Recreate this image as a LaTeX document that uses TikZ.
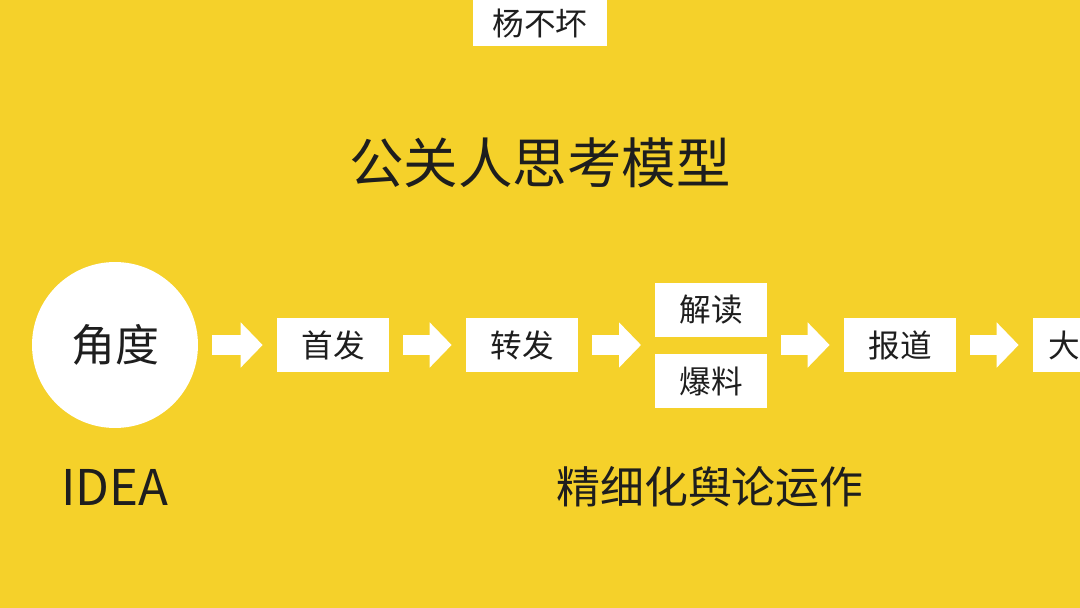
\documentclass[tikz,border=0pt]{standalone}
\usepackage{fontspec}
\setmainfont{Noto Sans CJK SC}
\usetikzlibrary{arrows.meta,calc}
\definecolor{bgyellow}{RGB}{245,209,42}
\definecolor{inkgray}{RGB}{30,30,30}
\tikzset{
  stagebox/.style = {fill = white, minimum width = 2.24cm, minimum height = 1.1cm, text = inkgray, font = \fontsize{18}{20}\selectfont, inner sep = 0pt},
  flow/.style = {white, line width = 0.4cm, -{Triangle[length = 0.44cm, width = 0.88cm]}, shorten < = 0.28cm, shorten > = 0.28cm}
}
\begin{document}
\begin{tikzpicture}[x = 0.02cm, y = -0.02cm, text = inkgray]
\fill [bgyellow] (0, 0) rectangle (1080, 608);
\clip (0, 0) rectangle (1080, 608);

\node [fill = white, minimum width = 2.68cm, minimum height = 0.92cm, inner sep = 0pt, font = \fontsize{18}{20}\selectfont] (author) at (540, 23) {杨不坏};
\node [font = \fontsize{31}{34}\selectfont] (title) at (540, 163) {公关人思考模型};

\node [circle, fill = white, minimum size = 3.32cm, inner sep = 0pt, font = \fontsize{25}{28}\selectfont] (idea) at (115, 345) {角度};
\node [stagebox] (first)   at (333, 345) {首发};
\node [stagebox] (repost)  at (522, 345) {转发};
\node [stagebox] (explain) at (711, 310) {解读};
\node [stagebox] (leak)    at (711, 381) {爆料};
\node [stagebox] (report)  at (900, 345) {报道};
\node [stagebox, text width = 2.24cm, align = left] (big) at (1089, 345) {\hspace{0.3cm}大};
\coordinate (pair) at (655, 345);
\coordinate (pairout) at (767, 345);

\draw [flow] (idea.east) -- (first.west);
\draw [flow] (first.east) -- (repost.west);
\draw [flow] (repost.east) -- (pair);
\draw [flow] (pairout) -- (report.west);
\draw [flow] (report.east) -- (big.west);

\node [font = \fontsize{28}{30}\selectfont] (ideaword) at (115, 487) {IDEA};
\node [font = \fontsize{25}{28}\selectfont] (method) at (710, 487) {精细化舆论运作};
\end{tikzpicture}
\end{document}
